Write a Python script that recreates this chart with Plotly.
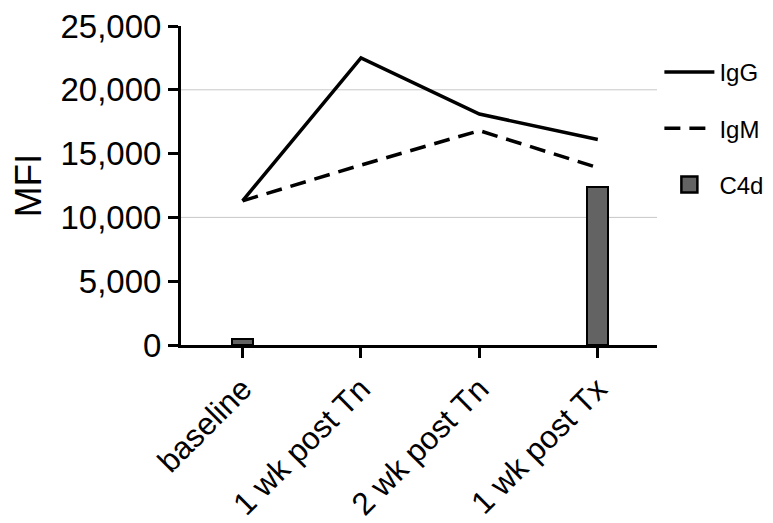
import plotly.graph_objects as go

categories = ["baseline", "1 wk post Tn", "2 wk post Tn", "1 wk post Tx"]
igg = [11300, 22500, 18100, 16100]
igm = [11300, 14100, 16800, 13900]
c4d = [500, None, None, 12400]
y_ticks = [0, 5000, 10000, 15000, 20000, 25000]
y_tick_text = ["0", "5,000", "10,000", "15,000", "20,000", "25,000"]
grid_vals = [10000, 20000]

x = list(range(len(categories)))
font = "Liberation Sans, Arial, sans-serif"
bar_color = "#636363"

fig = go.Figure()
fig.add_trace(go.Bar(x=x, y=c4d, name="C4d", width=0.18,
                     marker=dict(color=bar_color, line=dict(color="black", width=2)),
                     showlegend=False))
fig.add_trace(go.Scatter(x=x, y=igg, name="IgG", mode="lines",
                         line=dict(color="black", width=3.5), legendgroup="a", legendrank=1))
fig.add_trace(go.Scatter(x=x, y=igm, name="IgM", mode="lines",
                         line=dict(color="black", width=3.5, dash="16px,9px"), legendgroup="b", legendrank=2))
# legend entry for the C4d bars (square swatch)
fig.add_trace(go.Scatter(x=[None], y=[None], name="C4d", mode="markers",
                         marker=dict(symbol="square", size=20, color=bar_color,
                                     line=dict(color="black", width=2.5)),
                         legendgroup="c", legendrank=3))

for g in grid_vals:
    fig.add_shape(type="line", xref="paper", x0=0, x1=1, yref="y", y0=g, y1=g,
                  line=dict(color="#c8c8c8", width=1), layer="below")

# page has an 8px body margin, so the figure is offset to compensate
fig.update_layout(
    width=773, height=515,
    margin=dict(l=173, r=121, t=18, b=178),
    plot_bgcolor="white", paper_bgcolor="white",
    font=dict(family=font, color="black"),
    showlegend=True,
    legend=dict(x=1.005, y=0.925, xanchor="left", yanchor="top", itemwidth=50,
                itemsizing="trace",
                font=dict(size=24), tracegroupgap=22, bgcolor="rgba(0,0,0,0)"),
    xaxis=dict(range=[-0.52, 3.5], tickvals=x, ticktext=categories, tickangle=-45,
               tickfont=dict(size=31.5), showline=True, linecolor="black", linewidth=3,
               ticks="outside", ticklen=10, tickwidth=3, tickcolor="black",
               showgrid=False, zeroline=False, automargin=False,
               ticklabeloverflow="allow"),
    yaxis=dict(range=[0, 25000], tickvals=y_ticks, ticktext=y_tick_text,
               tickfont=dict(size=33), showline=True, linecolor="black", linewidth=3,
               ticks="outside", ticklen=10, tickwidth=3, tickcolor="black",
               showgrid=False, zeroline=False, automargin=False,
               ticklabeloverflow="allow",
               title=dict(text="MFI", font=dict(size=37), standoff=11)),
    bargap=0,
)

fig.write_html("out.html")
